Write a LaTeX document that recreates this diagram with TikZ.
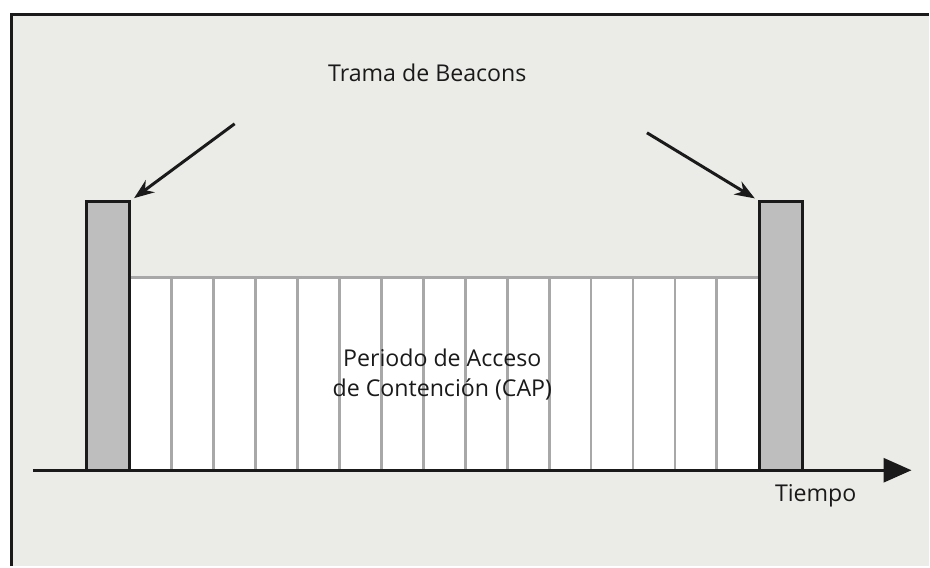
\documentclass[tikz,border=0pt]{standalone}
\usepackage{fontspec}
\setmainfont{Open Sans}
\usepackage{tikz}
\usetikzlibrary{arrows.meta,positioning}

\definecolor{fondo}{HTML}{EBEBE7}
\definecolor{beacon}{HTML}{BEBEBE}
\definecolor{ranura}{HTML}{A8A8A8}
\definecolor{negro}{HTML}{1A1A1A}

\tikzset{
  beaconbox/.style={draw=negro, line width=1.7pt, fill=beacon, minimum width=0.86cm, minimum height=5.38cm, inner sep=0pt},
  etiqueta/.style={font=\fontsize{13.2}{17}\selectfont, text=negro, align=center},
  flecha/.style={-{Stealth[length=0.4cm,width=0.3cm]}, line width=1.7pt, draw=negro, shorten >=2pt}
}

\begin{document}
\begin{tikzpicture}[x=0.02cm, y=-0.02cm]
    % fondo y marco
    \fill[white] (0,0) rectangle (930,567);
    \fill[fondo] (12,15) rectangle (930,567);
    \draw[negro, line width=1.7pt] (12,567) -- (12,15) -- (930,15);
    \useasboundingbox (0,0) rectangle (930,567);

    % periodo de contencion
    \fill[white] (130,278) rectangle (760,471);
    \foreach \i in {1,...,14}
      \draw[ranura, line width=1.6pt] (130+\i*42,278) -- (130+\i*42,471);
    \draw[ranura, line width=1.6pt] (130,278) -- (760,278);

    % beacons
    \node[beaconbox] (beaconA) at (108.5,336.5) {};
    \node[beaconbox] (beaconB) at (782,336.5) {};

    % eje de tiempo
    \coordinate (ejeIni) at (33,471);
    \coordinate (ejeFin) at (913,471);
    \draw[negro, line width=1.7pt, -{Triangle[length=0.56cm,width=0.48cm]}] (ejeIni) -- (ejeFin);

    \node[etiqueta] (tiempo) at (817,497) {Tiempo};
    \node[etiqueta] (cap) at (443,375) {Periodo de Acceso\\de Contención (CAP)};
    \node[etiqueta] (trama) at (428,73) {Trama de Beacons};

    \coordinate (origenA) at (235,124);
    \coordinate (origenB) at (648,133);
    \draw[flecha] (origenA) -- (beaconA.north east);
    \draw[flecha] (origenB) -- (beaconB.north west);
  \end{tikzpicture}
\end{document}
